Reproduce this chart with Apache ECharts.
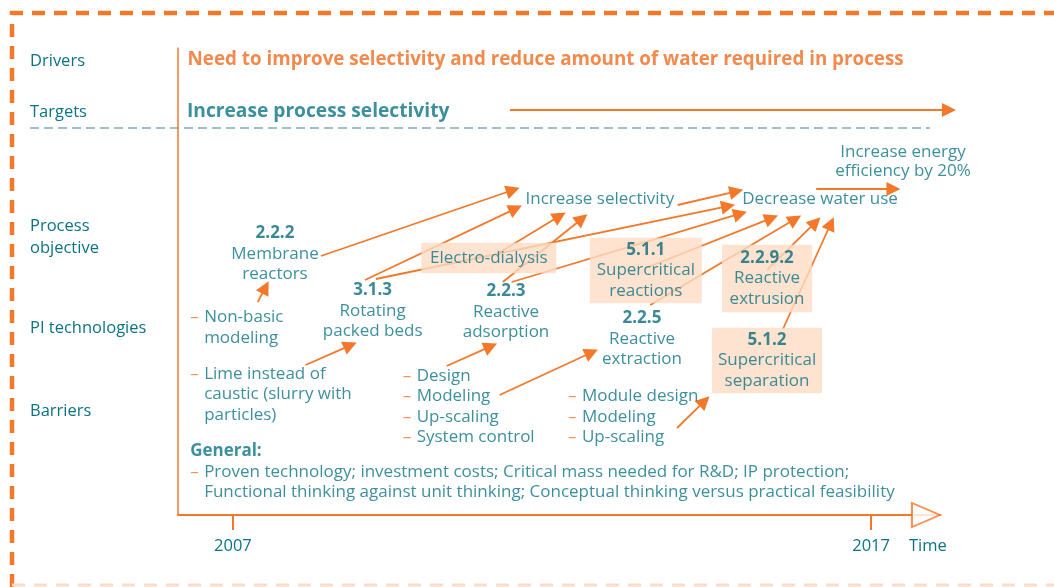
<!DOCTYPE html>
<html>
<head>
<meta charset="utf-8">
<script src="https://cdn.jsdelivr.net/npm/echarts@6/dist/echarts.min.js"></script>
<style>
  html, body { margin: 0; padding: 0; background: #fff; }
  #chart { width: 1054px; height: 587px; }
</style>
</head>
<body>
<div id="chart"></div>
<script>
  // time axis
  const yearTicks = [2007, 2017]
  const timeLabel = 2017.89

  // rows on the left, height above the time axis
  const rowNames = ['Drivers', 'Targets', 'Process\nobjective', 'PI technologies', 'Barriers']
  const rowHeights = [454, 403, 278, 187, 104]

  // [text, year, height]
  const driver = ['Need to improve selectivity and reduce amount of water required in process', 2006.29, 455.5]
  const target = ['Increase process selectivity', 2006.28, 403]

  const objectives = [
    ['Increase selectivity', 2012.75, 316],
    ['Decrease water use', 2016.20, 316],
    ['Increase energy\nefficiency by 20%', 2017.50, 353.5]
  ]

  // [code, name, year, height]
  const plainTech = [
    ['2.2.2', 'Membrane\nreactors', 2007.66, 261],
    ['3.1.3', 'Rotating\npacked beds', 2009.19, 204],
    ['2.2.3', 'Reactive\nadsorption', 2011.28, 203],
    ['2.2.5', 'Reactive\nextraction', 2013.41, 176]
  ]
  const boxedTech = [
    ['', 'Electro-dialysis', 2011.01, 257],
    ['5.1.1', 'Supercritical\nreactions', 2013.47, 244.5],
    ['2.2.9.2', 'Reactive\nextrusion', 2015.37, 236.5],
    ['5.1.2', 'Supercritical\nseparation', 2015.37, 154.5]
  ]

  // [lines, year, height]  ('– ' marks a bullet)
  const barriers = [
    [['– Non-basic', 'modeling'], 2006.33, 187.5],
    [['– Lime instead of', 'caustic (slurry with', 'particles)'], 2006.33, 120.5],
    [['– Design', '– Modeling', '– Up-scaling', '– System control'], 2009.66, 108.5],
    [['– Module design', '– Modeling', '– Up-scaling'], 2012.25, 98],
    [['General:', '– Proven technology; investment costs; Critical mass needed for R&D; IP protection;',
      'Functional thinking against unit thinking; Conceptual thinking versus practical feasibility'], 2006.33, 43]
  ]

  // arrows [fromYear, fromHeight, toYear, toHeight]
  const arrows = [
    [2008.38, 259, 2011.39, 325],
    [2009.07, 235, 2011.43, 306.4],
    [2009.24, 236, 2014.76, 308.8],
    [2011.14, 261, 2012.12, 298.9],
    [2011.23, 233, 2012.47, 296.3],
    [2011.37, 233, 2014.95, 301.3],
    [2013.97, 310, 2014.89, 323.6],
    [2013.47, 247, 2015.44, 296.8],
    [2013.54, 210, 2015.81, 295.9],
    [2015.37, 245, 2016.13, 292.8],
    [2015.62, 186, 2016.37, 291.5],
    [2016.14, 326, 2017.35, 326],
    [2007.39, 213, 2007.51, 227.6],
    [2008.14, 150, 2008.84, 169.6],
    [2010.35, 149, 2011.04, 168.6],
    [2011.18, 120, 2012.62, 162.5],
    [2013.96, 87, 2014.39, 113.8],
    [2011.34, 405, 2018.22, 405]
  ]

  const orange = '#f3782a'
  const teal = '#0b7384'
  const boxFill = '#fcdcc4'
  const font = 'Open Sans'
  const size = 17
  const boxStyle = {
    'Electro-dialysis': { width: 117, padding: [5, 9] },
    'Supercritical\nreactions': { width: 100, padding: [2, 6] },
    'Reactive\nextrusion': { width: 76, padding: [3, 7] },
    'Supercritical\nseparation': { width: 98, padding: [2, 6] }
  }

  const baseLabel = {
    show: true,
    position: [0, 0],
    verticalAlign: 'middle',
    color: teal,
    fontFamily: font,
    fontSize: size,
    lineHeight: 20.5,
    rich: {
      c: { fontFamily: font, fontSize: size, fontWeight: 'bold', color: '#0a6c7c', lineHeight: 20.5 },
      d: { fontFamily: font, fontSize: size, color: orange, width: 14, lineHeight: 20.5 },
      t: { fontFamily: font, fontSize: size, color: teal, lineHeight: 20.5 },
      b: { fontFamily: font, fontSize: size, fontWeight: 'bold', color: teal, lineHeight: 20.5 }
    }
  }

  function techText (code, name) {
    return code ? '{c|' + code + '}\n' + name : name
  }

  const textData = []
  textData.push({
    value: [driver[1], driver[2]],
    label: { formatter: driver[0], align: 'left', color: '#f06c1f', fontSize: 18.8, fontWeight: 'bold' }
  })
  textData.push({
    value: [target[1], target[2]],
    label: { formatter: target[0], align: 'left', color: teal, fontSize: 19.2, fontWeight: 'bold' }
  })
  objectives.forEach(o => {
    textData.push({ value: [o[1], o[2]], label: { formatter: o[0], align: 'center', lineHeight: 19 } })
  })
  plainTech.forEach(t => {
    textData.push({ value: [t[2], t[3]], label: { formatter: techText(t[0], t[1]), align: 'center' } })
  })
  boxedTech.forEach(t => {
    const s = boxStyle[t[1]]
    textData.push({
      value: [t[2], t[3]],
      label: {
        formatter: techText(t[0], t[1]),
        align: 'center',
        backgroundColor: boxFill,
        width: s.width,
        padding: s.padding
      }
    })
  })
  barriers.forEach(b => {
    const txt = b[0].map(l => {
      if (l.startsWith('– ')) return '{d|–}{t|' + l.slice(2) + '}'
      if (l.endsWith(':')) return '{b|' + l + '}'
      return '{d|}{t|' + l + '}'
    }).join('\n')
    textData.push({ value: [b[1], b[2]], label: { formatter: txt, align: 'left' } })
  })

  const chart = echarts.init(document.getElementById('chart'))
  chart.setOption({
    animation: false,
    textStyle: { fontFamily: font },
    grid: { left: 178, top: 48, right: 114, bottom: 72 },
    xAxis: {
      type: 'value',
      min: 2006.14,
      max: 2018.08,
      axisLine: { show: true, onZero: true, lineStyle: { color: orange, width: 2 } },
      axisTick: { show: true, customValues: yearTicks, length: 15, lineStyle: { color: orange, width: 2 } },
      axisLabel: {
        customValues: yearTicks.concat([timeLabel]),
        formatter: v => v > 2017.5 ? 'Time' : String(Math.round(v)),
        color: teal,
        fontSize: 16.5,
        fontFamily: font,
        margin: 23
      },
      splitLine: { show: false }
    },
    yAxis: {
      type: 'value',
      min: 0,
      max: 467,
      axisLine: { show: true, lineStyle: { color: orange, width: 1.5 } },
      axisTick: { show: false },
      splitLine: { show: false },
      axisLabel: {
        customValues: rowHeights,
        formatter: v => rowNames[rowHeights.indexOf(v)],
        align: 'left',
        margin: 148,
        color: teal,
        fontSize: 16.5,
        lineHeight: 22,
        fontFamily: font
      }
    },
    graphic: [
      { type: 'polyline', shape: { points: [[12, 587], [12, 13], [1054, 13]] },
        style: { stroke: orange, lineWidth: 4.5, lineDash: [13, 9], fill: null }, silent: true },
      { type: 'line', shape: { x1: 12, y1: 585, x2: 1054, y2: 585 },
        style: { stroke: '#fcdcc6', lineWidth: 3, lineDash: [13, 9] }, silent: true },
      { type: 'line', shape: { x1: 30, y1: 128, x2: 930, y2: 128 },
        style: { stroke: '#9fbfcc', lineWidth: 2, lineDash: [9, 5] }, silent: true }
    ],
    series: [
      {
        type: 'lines',
        coordinateSystem: 'cartesian2d',
        z: 2,
        clip: false,
        symbol: ['none', 'triangle'],
        symbolSize: 14,
        lineStyle: { color: orange, width: 1.8, opacity: 1 },
        data: arrows.map(a => ({ coords: [[a[0], a[1]], [a[2], a[3]]] }))
      },
      {
        type: 'scatter',
        z: 3,
        symbol: 'triangle',
        symbolSize: [24, 28],
        symbolRotate: -90,
        itemStyle: { color: '#fff', borderColor: orange, borderWidth: 2 },
        data: [[2017.86, 0]]
      },
      {
        type: 'scatter',
        z: 4,
        symbolSize: 0,
        label: baseLabel,
        data: textData
      }
    ]
  })
</script>
</body>
</html>
